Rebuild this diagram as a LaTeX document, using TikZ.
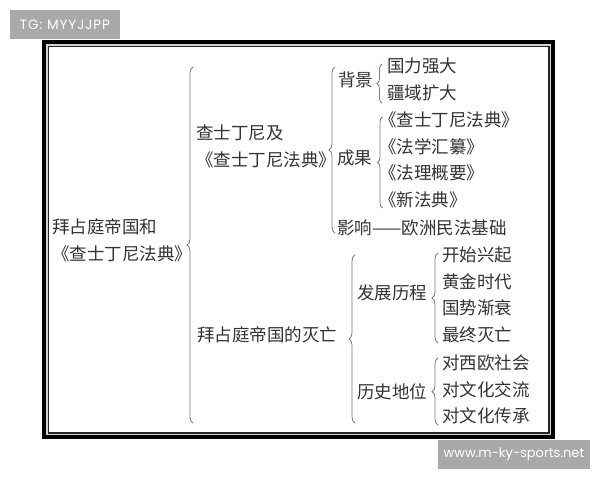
\documentclass[tikz,border=0pt]{standalone}
\usepackage{fontspec}
\setmainfont{Noto Sans CJK SC}
\newfontfamily\wmfont{Poppins}
\usetikzlibrary{positioning,decorations.pathreplacing}

\definecolor{ink}{HTML}{333333}
\definecolor{bracegray}{HTML}{7C7C7C}
\definecolor{markgray}{HTML}{A9A9A9}

\begin{document}
\begin{tikzpicture}[x=1pt,y=-1pt,node distance=26.5pt,
    txt/.style={anchor=west,inner sep=0pt,text=ink,align=left,
                font=\fontsize{17.5}{27}\selectfont},
    nxt/.style={txt,below=of #1.west,anchor=west},
    brc/.style={draw=bracegray,line width=0.8pt,decorate,
                decoration={brace,amplitude=#1}},
    brc/.default=6pt,
    wmbox/.style={fill=markgray,inner sep=0pt,text=white,
                  font=\wmfont\fontsize{13}{15}\selectfont}]

  \useasboundingbox (0,0) rectangle (600,480);

  % frame
  \fill[black]   (42,40)     rectangle (555,439);
  \fill[gray!35] (46,44)     rectangle (551,435);
  \fill[black!85](47.5,45.5) rectangle (549.5,433.5);
  \fill[white]   (49,47)     rectangle (548,432);

  % watermarks
  \node[wmbox,minimum width=110pt,minimum height=29pt] (tg)  at (65,24.5)
      {\addfontfeature{LetterSpace=7}\fontsize{13.5}{15}\selectfont TG: MYYJJPP};
  \node[wmbox,minimum width=152pt,minimum height=29pt] (web) at (514,454.5) {www.m-ky-sports.net};

  % main branches
  \node[txt] (root) at (52,240.5)  {拜占庭帝国和\\《查士丁尼法典》};
  \node[txt] (just) at (196,146.5) {查士丁尼及\\《查士丁尼法典》};
  \node[txt] (fall) at (197,335)   {拜占庭帝国的灭亡};

  \node[txt] (bg)   at (338,80)    {背景};
  \node[txt] (res)  at (337,158)   {成果};
  \node[txt] (inf)  at (337,228)   {影响——欧洲民法基础};
  \node[txt] (dev)  at (357,293)   {发展历程};
  \node[txt] (pos)  at (357,392)   {历史地位};

  % leaves
  \node[txt]      (bg1)  at (387,66)  {国力强大};
  \node[nxt=bg1]  (bg2)               {疆域扩大};

  \node[txt]      (res1) at (379,120) {《查士丁尼法典》};
  \node[nxt=res1] (res2)              {《法学汇纂》};
  \node[nxt=res2] (res3)              {《法理概要》};
  \node[nxt=res3] (res4)              {《新法典》};

  \node[txt]      (dev1) at (442,255) {开始兴起};
  \node[nxt=dev1] (dev2)              {黄金时代};
  \node[nxt=dev2] (dev3)              {国势渐衰};
  \node[nxt=dev3] (dev4)              {最终灭亡};

  \node[txt]      (pos1) at (442,363) {对西欧社会};
  \node[nxt=pos1] (pos2)              {对文化交流};
  \node[nxt=pos2] (pos3)              {对文化传承};

  % braces
  \coordinate (b1t) at (193,67);    \coordinate (b1b) at (193,423);
  \coordinate (b2t) at (335,67);    \coordinate (b2b) at (335,233);
  \coordinate (b3t) at (382,64);    \coordinate (b3b) at (382,103);
  \coordinate (b4t) at (382.5,117); \coordinate (b4b) at (382.5,208);
  \coordinate (b5t) at (355,255);   \coordinate (b5b) at (355,423);
  \coordinate (b6t) at (438,253);   \coordinate (b6b) at (438,343);
  \coordinate (b7t) at (438,358);   \coordinate (b7b) at (438,425);

  \draw[brc]     (b1b) -- (b1t);
  \draw[brc]     (b2b) -- (b2t);
  \draw[brc=5pt] (b3b) -- (b3t);
  \draw[brc=5pt] (b4b) -- (b4t);
  \draw[brc]     (b5b) -- (b5t);
  \draw[brc]     (b6b) -- (b6t);
  \draw[brc]     (b7b) -- (b7t);
\end{tikzpicture}
\end{document}
